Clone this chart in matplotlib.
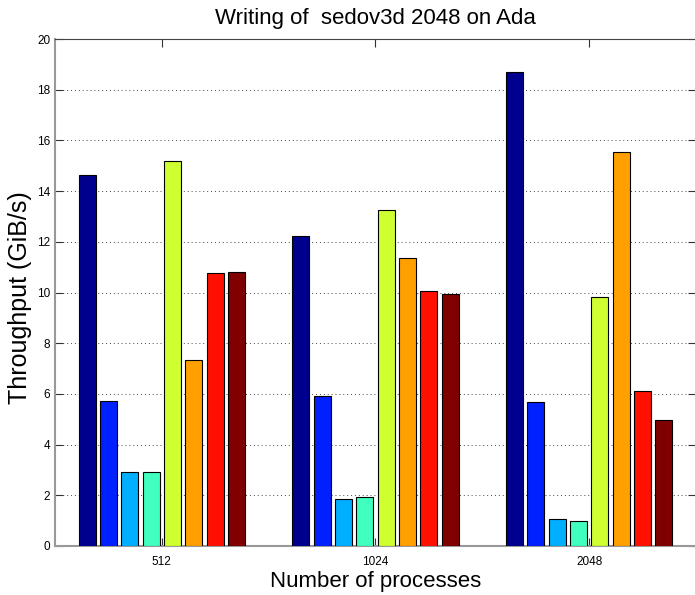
import matplotlib.pyplot as plt
import numpy as np

plt.rcParams['font.family'] = ['Liberation Sans', 'DejaVu Sans']

# numero de procesos y throughput (GiB/s) de cada una de las 8 barras
procesos = ['512', '1024', '2048']
thr_512 = [14.62, 5.73, 2.93, 2.90, 15.17, 7.35, 10.75, 10.80]
thr_1024 = [12.22, 5.93, 1.87, 1.94, 13.24, 11.38, 10.04, 9.96]
thr_2048 = [18.69, 5.70, 1.05, 0.97, 9.82, 15.54, 6.13, 4.97]

colores = ['#00008F', '#0020FF', '#00AFFF', '#40FFBF',
           '#CFFF30', '#FFA000', '#FF1000', '#800000']

datos = np.array([thr_512, thr_1024, thr_2048])
x = np.arange(1, len(procesos) + 1)
nb = datos.shape[1]
paso = 0.1

fig = plt.figure(figsize=(6.95, 5.95), dpi=100)
ax = fig.add_axes([55 / 695, 49 / 595, 641 / 695, 507 / 595])

for i in range(nb):
    ax.bar(x + (i - (nb - 1) / 2) * paso, datos[:, i], width=0.08,
           color=colores[i], edgecolor='black', linewidth=0.8, zorder=3)

ax.set_xlim(0.5, 3.5)
ax.set_ylim(0, 20)
ax.set_xticks(x)
ax.set_xticklabels(procesos)
ax.set_yticks(range(0, 21, 2))
ax.tick_params(direction='in', top=True, right=True, length=6, width=0.8,
               labelsize=8.5, color='#333')
ax.tick_params(axis='x', pad=7)
ax.tick_params(axis='y', pad=3.5)
ax.yaxis.grid(True, linestyle=(0, (1, 3)), color='#444', linewidth=0.7)

for s in ['left', 'bottom']:
    ax.spines[s].set_color('#999')
    ax.spines[s].set_linewidth(1.5)
for s in ['top', 'right']:
    ax.spines[s].set_color('#444')
    ax.spines[s].set_linewidth(0.8)

ax.set_title('Writing of  sedov3d 2048 on Ada', fontsize=16, pad=11)
ax.set_xlabel('Number of processes', fontsize=16)
ax.xaxis.set_label_coords(0.5, -0.049)
ax.set_ylabel('Throughput (GiB/s)', fontsize=18)
ax.yaxis.set_label_coords(-0.036, 0.49)

plt.savefig('out.png')
